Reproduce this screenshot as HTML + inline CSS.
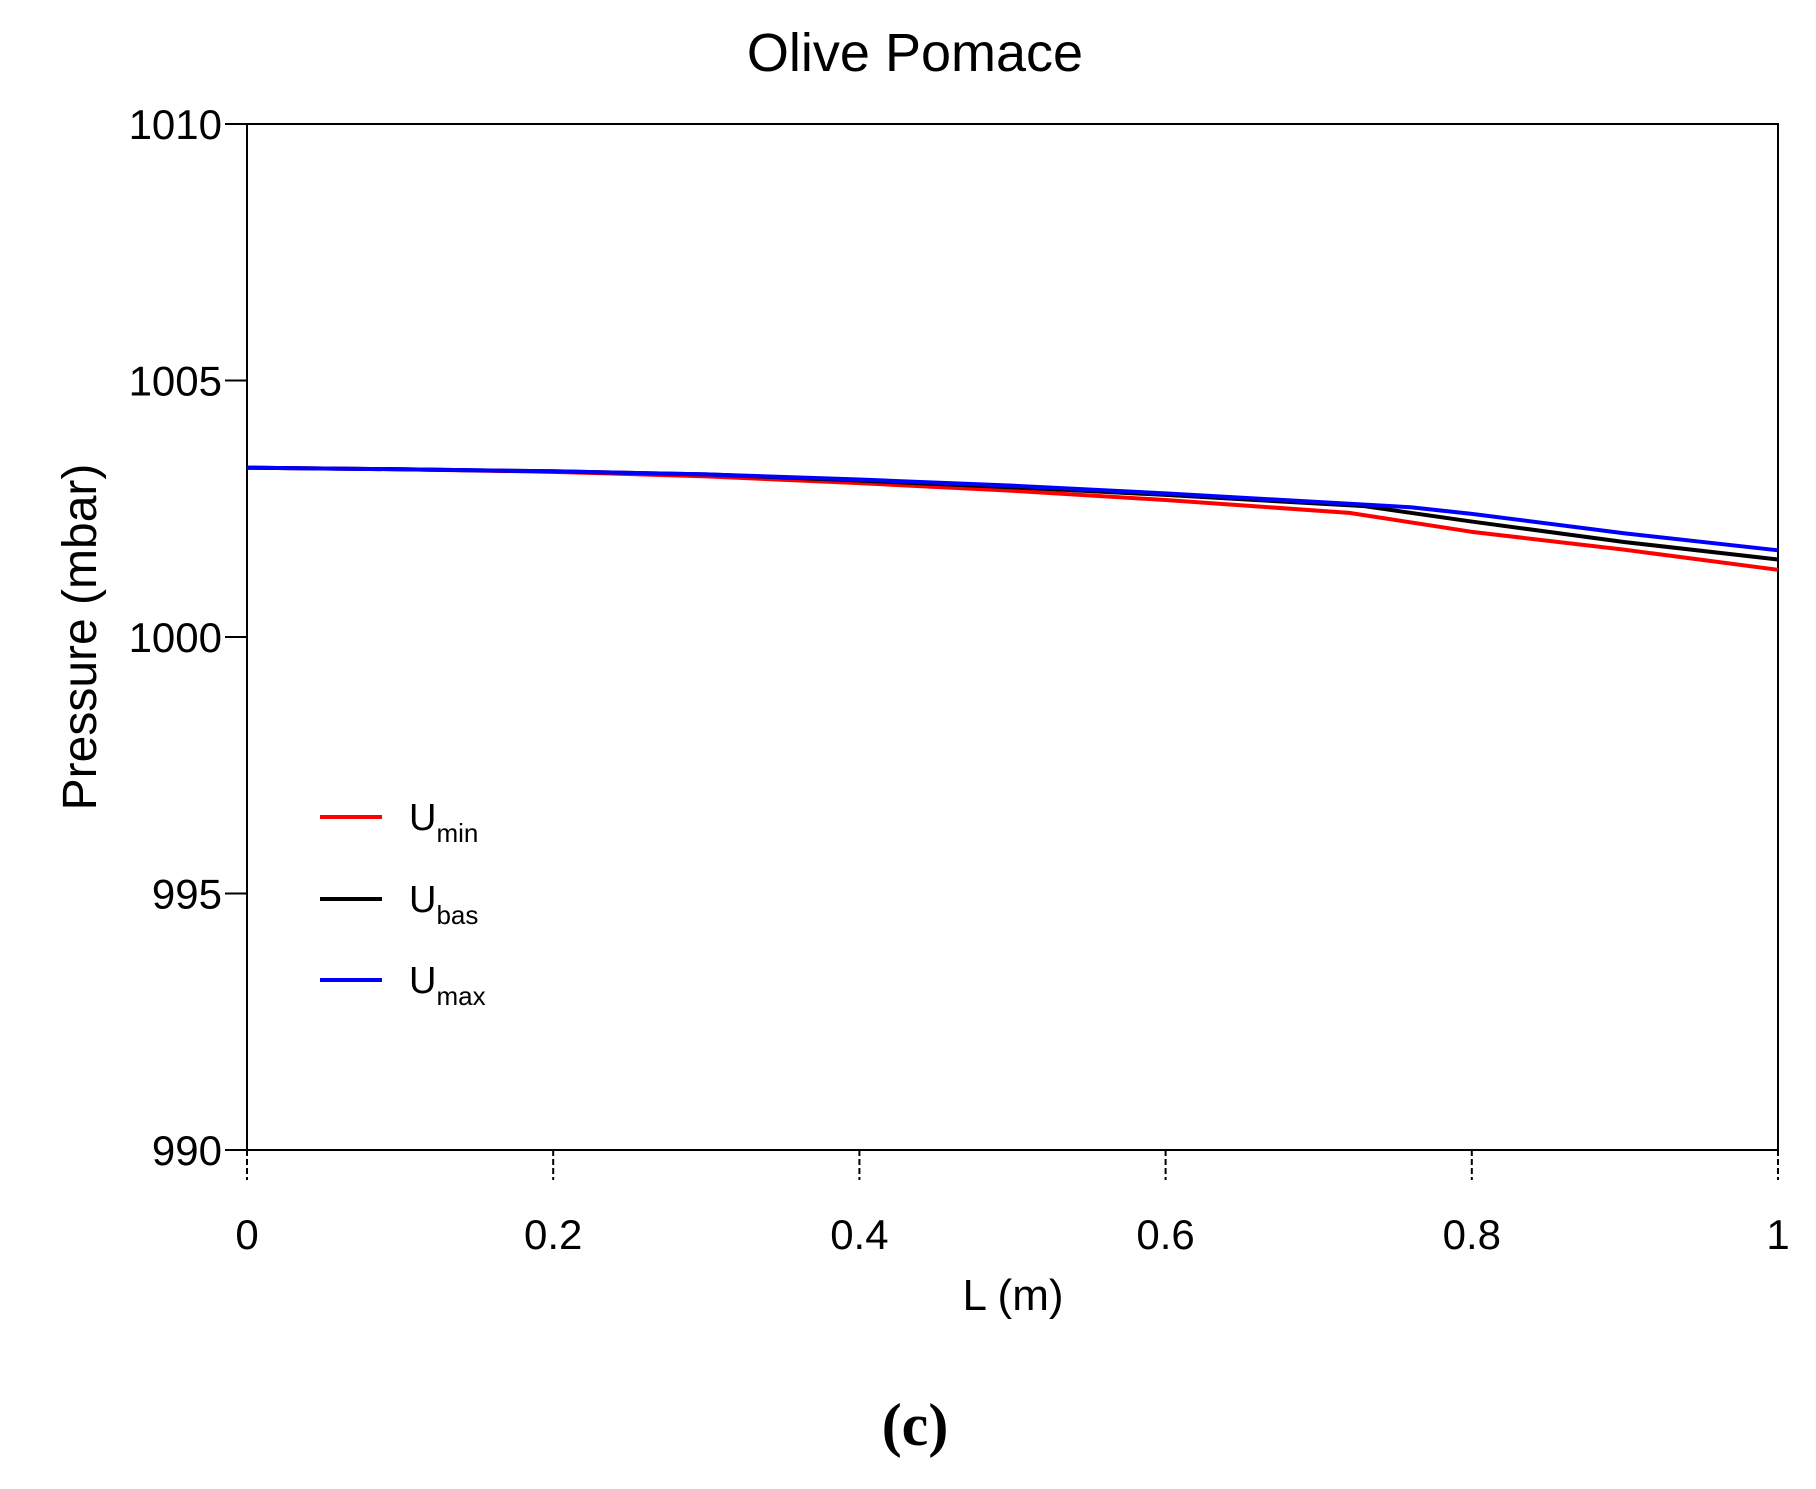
<!DOCTYPE html>
<html><head><meta charset="utf-8"><style>
body{margin:0;background:#fff}
svg text{font-family:"Liberation Sans",sans-serif;fill:#000}
</style></head><body>
<svg width="1816" height="1484" viewBox="0 0 1816 1484">
<text x="915" y="71" font-size="54" text-anchor="middle">Olive Pomace</text>
<rect x="247" y="124" width="1531" height="1026" fill="none" stroke="#000" stroke-width="2"/>
<g id="axes"></g>
<g id="series"></g>
<text x="1013" y="1310" font-size="44" text-anchor="middle">L (m)</text>
<text transform="translate(96,637) rotate(-90)" font-size="48" text-anchor="middle">Pressure (mbar)</text>
<text x="915" y="1445" font-size="60" font-weight="bold" text-anchor="middle" style="font-family:'Liberation Serif',serif">(c)</text>
<g>
<line x1="320" y1="817" x2="382" y2="817" stroke="#f00" stroke-width="4"/>
<text x="409" y="830" font-size="38">U<tspan font-size="26" dy="12">min</tspan></text>
<line x1="320" y1="899" x2="382" y2="899" stroke="#000" stroke-width="4"/>
<text x="409" y="912" font-size="38">U<tspan font-size="26" dy="12">bas</tspan></text>
<line x1="320" y1="980" x2="382" y2="980" stroke="#00f" stroke-width="4"/>
<text x="409" y="993" font-size="38">U<tspan font-size="26" dy="12">max</tspan></text>
</g>
</svg>
<script>
const xTicks=[0,0.2,0.4,0.6,0.8,1];
const xTickLabels=["0","0.2","0.4","0.6","0.8","1"];
const yTicks=[990,995,1000,1005,1010];
const yTickLabels=["990","995","1000","1005","1010"];
const redX=[0,0.1,0.2,0.3,0.4,0.5,0.6,0.72,0.8,0.9,1];
const redY=[1003.3,1003.27,1003.22,1003.13,1003.0,1002.85,1002.67,1002.42,1002.05,1001.7,1001.31];
const blackX=[0,0.1,0.2,0.3,0.4,0.5,0.6,0.73,0.8,0.9,1];
const blackY=[1003.3,1003.27,1003.23,1003.17,1003.05,1002.92,1002.77,1002.55,1002.25,1001.85,1001.51];
const blueX=[0,0.1,0.2,0.3,0.4,0.5,0.6,0.76,0.8,0.9,1];
const blueY=[1003.3,1003.27,1003.23,1003.17,1003.07,1002.95,1002.8,1002.53,1002.4,1002.02,1001.69];
const NS="http://www.w3.org/2000/svg";
const L=247,R=1778,T=124,B=1150;
const sx=v=>L+(v-0)/(1-0)*(R-L);
const sy=v=>B-(v-990)/(1010-990)*(B-T);
const axes=document.getElementById('axes'),ser=document.getElementById('series');
function mk(tag,at,parent){const e=document.createElementNS(NS,tag);for(const k in at)e.setAttribute(k,at[k]);parent.appendChild(e);return e;}
xTicks.forEach((v,i)=>{
 const l=mk('line',{x1:sx(v),x2:sx(v),y1:B,y2:B+30,stroke:'#000','stroke-width':2,'stroke-dasharray':'6 3'},axes);
 
 
 const t=mk('text',{x:sx(v),y:1249,'font-size':42,'text-anchor':'middle'},axes);
 t.textContent=xTickLabels[i];
 
 
});
yTicks.forEach((v,i)=>{
 const l=mk('line',{x1:L-22,x2:L,y1:sy(v),y2:sy(v),stroke:'#000','stroke-width':2},axes);
 
 
 const t=mk('text',{x:222,y:sy(v)+15,'font-size':42,'text-anchor':'end'},axes);
 t.textContent=yTickLabels[i];
 
 
});
function line(xs,ys,c,name){
 const p=mk('polyline',{points:xs.map((x,i)=>sx(x)+','+sy(ys[i])).join(' '),fill:'none',stroke:c,'stroke-width':4,'stroke-linejoin':'round'},ser);
 
 
}
line(redX,redY,'#f00','line-umin');
line(blackX,blackY,'#000','line-ubas');
line(blueX,blueY,'#00f','line-umax');
</script>
</body></html>
